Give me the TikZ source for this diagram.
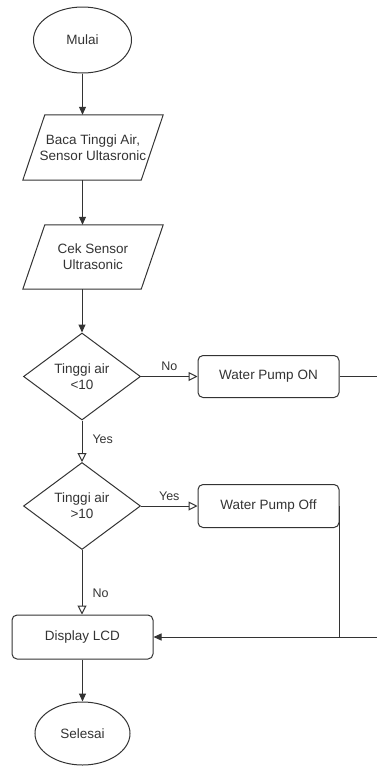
\documentclass[tikz,border=0pt]{standalone}
\usepackage{fontspec}
\setmainfont{Liberation Sans}
\usetikzlibrary{shapes.geometric,arrows.meta}
\definecolor{ink}{HTML}{333333}
\begin{document}
\begin{tikzpicture}[x=1pt,y=-1pt,
  every node/.style={text=ink, font=\fontsize{13.5}{16}\selectfont, align=center, inner sep=0pt},
  line/.style={draw=ink, line width=1pt},
  term/.style={ellipse, line, minimum width=#1},
  iobox/.style={rectangle, minimum width=140pt, minimum height=65pt},
  decis/.style={diamond, line, aspect=1.345, minimum width=117pt, minimum height=87pt},
  procbox/.style={rectangle, line, rounded corners=5pt, minimum width=141pt, minimum height=43pt},
  lbl/.style={font=\fontsize{12.5}{15}\selectfont},
  arr/.style={line, -{Stealth[length=8pt,width=7pt,inset=0pt]}},
  oarr/.style={line, -{Triangle[open,length=9pt,width=9pt]}}
]
\useasboundingbox (0,0) rectangle (377,766);
% nodes
\node[term=98pt, minimum height=66pt] (mulai) at (82.5,40) {Mulai};
\node[iobox] (p1) at (93,147.5) {Baca Tinggi Air,\\Sensor Ultasronic};
\draw[line] (p1.south west) -- ([xshift=22pt]p1.north west) -- (p1.north east) -- ([xshift=-22pt]p1.south east) -- cycle;
\node[iobox, minimum height=64pt] (p2) at (93,257) {Cek Sensor\\Ultrasonic};
\draw[line] (p2.south west) -- ([xshift=22pt]p2.north west) -- (p2.north east) -- ([xshift=-22pt]p2.south east) -- cycle;
\node[decis] (d1) at (82,376.5) {Tinggi air\\<10};
\node[procbox, minimum height=42pt] (on) at (268.5,376.5) {Water Pump ON};
\node[decis] (d2) at (82,506) {Tinggi air\\>10};
\node[procbox] (off) at (268.5,506) {Water Pump Off};
\node[procbox, minimum height=44pt] (lcd) at (82.5,637) {Display LCD};
\node[term=95pt, minimum height=63pt] (selesai) at (82.5,733.5) {Selesai};
\coordinate (onOut) at (377,376.5);
\coordinate (lcdIn) at (377,637);
% connectors
\draw[arr] (mulai.south) -- (mulai.south |- p1.north);
\draw[arr] (mulai.south |- p1.south) -- (mulai.south |- p2.north);
\draw[arr] (d1.north |- p2.south) -- (d1.north);
\draw[oarr] (d1.east) -- node[lbl, above=5pt] {No} (on.west);
\draw[line] (on.east) -- (onOut);
\draw[oarr] (d1.south) -- node[lbl, pos=0.45, right=10pt] {Yes} (d2.north);
\draw[oarr] (d2.east) -- node[lbl, above=5pt] {Yes} (off.west);
\draw[oarr] (d2.south) -- node[lbl, pos=0.67, right=10pt] {No} (lcd.north -| d2.south);
\draw[line] (off.east) -- (off.east |- lcd.east);
\draw[arr] (lcdIn) -- (lcd.east);
\draw[arr] (lcd.south -| selesai.north) -- (selesai.north);
\end{tikzpicture}
\end{document}
